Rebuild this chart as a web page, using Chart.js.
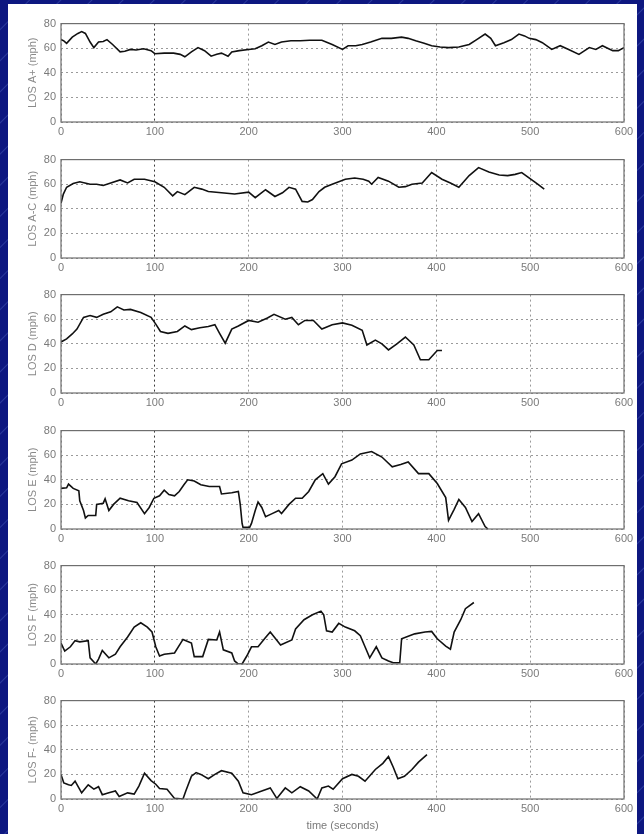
<!DOCTYPE html>
<html>
<head>
<meta charset="utf-8">
<title>LOS speed traces</title>
<script src="https://cdn.jsdelivr.net/npm/chart.js@4.4.1/dist/chart.umd.min.js"></script>
<style>
    html, body { margin: 0; padding: 0; }
    body {
        width: 644px;
        height: 834px;
        overflow: hidden;
        position: relative;
        background-color: #0d1780;
        background-image: repeating-linear-gradient(135deg, #0d1780 0px, #0d1780 20px, #2a399c 21px, #0d1780 22px);
    }
    #panel { position: absolute; left: 8px; top: 4px; width: 629px; height: 830px; background: #fff; }
    canvas { position: absolute; left: 0; }
</style>
</head>
<body>
<div id="panel"></div>
<canvas id="plot-0" width="644" height="132"></canvas>
<canvas id="plot-1" width="644" height="132"></canvas>
<canvas id="plot-2" width="644" height="132"></canvas>
<canvas id="plot-3" width="644" height="132"></canvas>
<canvas id="plot-4" width="644" height="132"></canvas>
<canvas id="plot-5" width="644" height="146"></canvas>
<script>
// speed traces, time in seconds, speed in mph
const losAPlusTime = [0, 3, 6, 12, 18, 22, 26, 31, 35, 40, 45, 49, 55, 63, 68, 74, 80, 88, 96, 100, 110, 120, 127, 132, 139, 146, 153, 160, 166, 171, 178, 182, 190, 200, 207, 214, 221, 228, 235, 245, 255, 265, 278, 289, 300, 306, 314, 321, 330, 342, 352, 363, 370, 378, 387, 395, 404, 413, 424, 435, 443, 452, 458, 463, 472, 480, 488, 494, 499, 506, 513, 523, 532, 541, 552, 563, 570, 577, 588, 594, 600];
const losAPlusSpeed = [67, 66, 64, 69, 72, 73.5, 72, 65, 60.5, 65, 65.5, 67, 63, 57, 57.5, 59, 58.5, 59.5, 58, 55.5, 56, 56, 55, 53, 57, 60.5, 58, 53.5, 55, 56, 53.5, 57, 58, 59, 59.5, 62, 65, 63, 65, 66, 66, 66.5, 66.5, 63, 59, 62, 62, 63, 65, 68, 68, 69, 68, 66, 64, 62, 61, 60.5, 61, 63, 67, 71.5, 68, 62, 64.5, 67, 71.5, 70, 68, 67, 64.5, 59, 62, 59, 55, 60.5, 59, 62, 58, 58, 60.5];

const losACTime = [0, 2.5, 6, 13, 20, 31, 38, 45, 53, 63, 71, 78, 89, 100, 110, 119, 124, 132, 142, 150, 157, 171, 185, 200, 207, 218, 228, 236, 243, 250, 257, 263, 268, 275, 281, 289, 303, 313, 322, 328, 331, 338, 349, 360, 367, 374, 385, 395, 406, 415, 424, 435, 445, 456, 467, 476, 484, 491, 501, 508, 515];
const losACSpeed = [44.5, 52, 57.5, 60.5, 62, 60, 60, 59, 61, 63.5, 61, 64, 64, 62, 57.5, 50.5, 54, 51.5, 57.5, 56, 54, 53, 52, 53.5, 49, 55.5, 50, 53, 57.5, 56, 46, 45.5, 47.5, 54, 57.5, 60, 64, 65, 64, 62.5, 60, 65.5, 62.5, 57.5, 58, 60, 61, 69.5, 64, 61, 57.5, 67, 73.5, 70, 67.5, 67, 68, 69.5, 64, 60, 56];

const losDTime = [0, 6, 12, 17, 24, 31, 38, 45, 53, 60, 67, 74, 85, 96, 101, 106, 114, 124, 132, 139, 148, 157, 164, 169, 175, 182, 189, 200, 210, 220, 227, 239, 246, 253, 260, 269, 278, 289, 300, 310, 321, 326, 335, 342, 349, 358, 367, 376, 383, 392, 401, 406];
const losDSpeed = [41.5, 44, 48, 52, 61.5, 63, 61.5, 64, 66, 70, 67.5, 68, 65.5, 61.5, 56, 50, 48.5, 50, 54.5, 51.5, 53, 54, 55.5, 48.5, 40.5, 52, 54.5, 59, 57.5, 61, 64, 60, 61.5, 55.5, 59, 59, 52, 55.5, 57, 55, 51, 39, 43, 40, 35, 40, 45.5, 39, 27, 27, 34.5, 34.5];

const losETime = [0, 6, 8, 13, 19, 20, 24, 26, 29, 37, 38, 45, 47, 51, 56, 63, 72, 81, 89, 94, 99, 105, 110, 115, 121, 126, 131, 135, 142, 149, 158, 169, 171, 182, 189, 191, 193, 194, 201, 203, 207, 210, 214, 218, 225, 232, 235, 243, 250, 257, 264, 271, 279, 285, 292, 299, 310, 319, 331, 342, 353, 362, 370, 381, 392, 401, 410, 413, 419, 424, 431, 438, 445, 452, 455];
const losESpeed = [33, 33.5, 36.5, 33, 31, 23, 15, 9, 11, 11, 20, 21, 24.5, 15, 20, 25, 23, 21.5, 12.5, 17.5, 25, 27, 31.5, 28, 27, 30.5, 36, 40, 39, 36, 34.5, 34.5, 28.5, 29.5, 30.5, 20, 4.5, 1.3, 1.3, 4.5, 15, 22, 17.5, 10, 12.5, 15, 12.5, 20, 25, 25, 30.5, 40, 45, 36.5, 42.5, 53, 56, 61, 63, 58.5, 50.5, 52.5, 54.5, 45, 45, 37, 25.5, 7, 16, 24, 17.5, 6, 12.5, 2, 0];

const losFTime = [0, 4, 10, 15, 20, 29, 31, 37, 40, 44, 51, 58, 63, 71, 78, 85, 92, 97, 101, 105, 110, 121, 130, 139, 142, 151, 157, 166, 169, 173, 182, 185, 189, 193, 198, 203, 210, 218, 223, 234, 246, 250, 259, 268, 277, 280, 283, 289, 296, 303, 313, 319, 324, 329, 336, 342, 349, 354, 361, 363, 370, 377, 388, 395, 401, 410, 415, 419, 426, 431, 440];
const losFSpeed = [17, 10.5, 14, 19, 18, 19, 5, 0, 4, 11, 5, 8, 14, 22, 30, 33.5, 30, 26, 14, 6.5, 8, 9, 20, 17, 6, 6, 20, 19.5, 26, 11.5, 9, 2.5, 0, 0, 6.5, 14, 14, 21.5, 26, 15.5, 19.5, 28.5, 36, 40, 43, 40, 27, 26, 33, 30, 27, 23, 14, 5, 14, 5, 2.5, 1, 1, 20.5, 22.5, 24.5, 26, 26.5, 20.5, 14.5, 12, 26, 36, 45, 50];

const losFMinusTime = [0, 3, 8, 11, 15, 22, 29, 35, 40, 44, 51, 58, 62, 71, 78, 83, 89, 96, 101, 105, 113, 121, 130, 133, 139, 144, 149, 157, 164, 171, 182, 189, 194, 203, 214, 223, 230, 239, 246, 255, 264, 273, 278, 285, 290, 300, 310, 317, 324, 335, 343, 349, 354, 359, 366, 374, 381, 390];
const losFMinusSpeed = [20, 13, 11.5, 11, 14.5, 5, 11.5, 8, 10, 3.5, 5, 6.5, 2, 5, 4, 10.5, 21, 15, 12, 8.5, 8, 0.5, 0, 6.5, 18.5, 21.5, 20, 16.5, 20, 23, 21, 14.5, 5, 3.5, 6.5, 9, 0.5, 9, 5, 10, 6.5, 0, 9, 10.5, 8, 16.5, 20, 18.5, 14.5, 24, 29, 34.5, 26, 16.5, 18.5, 24, 30, 36];

const yAxisLabels = ['LOS A+ (mph)', 'LOS A-C (mph)', 'LOS D (mph)', 'LOS E (mph)', 'LOS F (mph)', 'LOS F- (mph)'];
const xAxisLabel = 'time (seconds)';

const series = [
    [losAPlusTime, losAPlusSpeed],
    [losACTime, losACSpeed],
    [losDTime, losDSpeed],
    [losETime, losESpeed],
    [losFTime, losFSpeed],
    [losFMinusTime, losFMinusSpeed]
];

// top edge of each plot box on the page
const plotTops = [20, 156, 291, 427, 562, 697];

const font = { family: "'Liberation Sans', Arial, sans-serif", size: 11 };

// matlab style box round the axes
const boxFrame = {
    id: 'boxFrame',
    afterDraw(chart) {
        const { ctx, chartArea: a } = chart;
        ctx.save();
        ctx.strokeStyle = '#6e6e6e';
        ctx.lineWidth = 1.2;
        ctx.strokeRect(a.left, a.top, a.right - a.left, a.bottom - a.top);
        ctx.restore();
    }
};

function makePlot(index) {
    const canvas = document.getElementById('plot-' + index);
    const isLast = index === series.length - 1;
    const [times, speeds] = series[index];
    canvas.style.top = (plotTops[index] - 8) + 'px';

    new Chart(canvas, {
        type: 'line',
        data: {
            datasets: [{
                data: times.map((t, i) => ({ x: t, y: speeds[i] })),
                borderColor: '#111111',
                borderWidth: 1.6,
                pointRadius: 0,
                tension: 0
            }]
        },
        options: {
            responsive: false,
            animation: false,
            devicePixelRatio: 1,
            layout: { padding: { top: 8, right: 20, left: 0, bottom: 0 } },
            plugins: {
                legend: { display: false },
                tooltip: { enabled: false }
            },
            scales: {
                x: {
                    type: 'linear',
                    min: 0,
                    max: 600,
                    afterFit: scale => { scale.height = isLast ? 36 : 22; },
                    // in v4 the dash of the grid lines sits under border
                    border: { display: false, dash: [2, 3] },
                    grid: {
                        drawTicks: false,
                        color: c => (c.tick && c.tick.value === 100) ? '#3a3a3a' : '#9a9a9a',
                        lineWidth: 1
                    },
                    ticks: { stepSize: 100, padding: 3, color: '#7a7a7a', font: font, maxRotation: 0 },
                    title: {
                        display: isLast,
                        text: xAxisLabel,
                        color: '#7a7a7a',
                        font: font,
                        padding: { top: 0, bottom: 2 }
                    }
                },
                y: {
                    min: 0,
                    max: 80,
                    afterFit: scale => { scale.width = 61; },
                    border: { display: false, dash: [2, 3] },
                    grid: {
                        drawTicks: false,
                        color: '#9a9a9a',
                        lineWidth: 1
                    },
                    ticks: { stepSize: 20, padding: 5, color: '#7a7a7a', font: font },
                    title: {
                        display: true,
                        text: yAxisLabels[index],
                        color: '#8a8a8a',
                        font: font,
                        padding: { top: 26, bottom: 0 }
                    }
                }
            }
        },
        plugins: [boxFrame]
    });
}

series.forEach((s, i) => makePlot(i));
</script>
</body>
</html>
